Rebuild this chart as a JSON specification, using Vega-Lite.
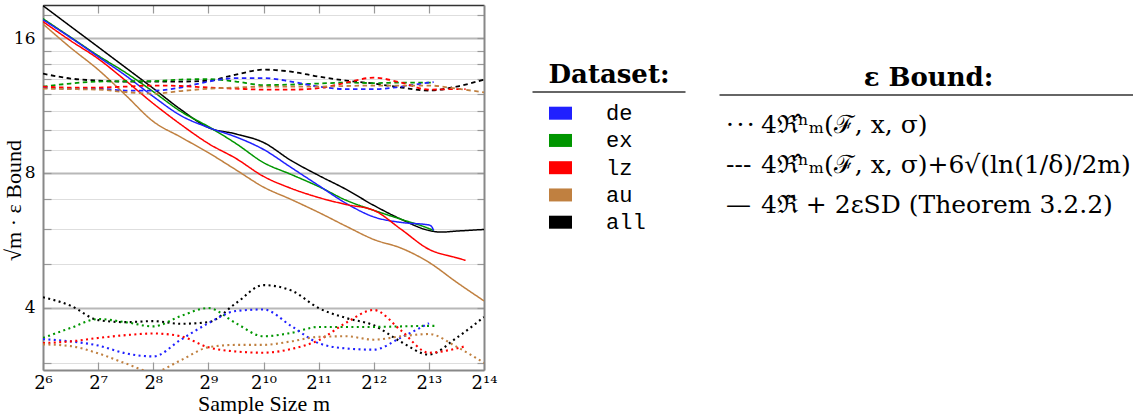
{
"$schema": "https://vega.github.io/schema/vega-lite/v6.json",
"padding": {"left": 2, "top": 4, "right": 0, "bottom": 0},
"config": {"view": {"stroke": null}, "font": "Liberation Serif"},
"spacing": 32,
"hconcat": [
{
"width": 441, "height": 365,
"data": {"values": [
{"dataset":"all","bound":"solid","m":64,"v":18.93},{"dataset":"all","bound":"solid","m":90.51,"v":17.02},{"dataset":"all","bound":"solid","m":128,"v":15.31},{"dataset":"all","bound":"solid","m":181.02,"v":13.76},{"dataset":"all","bound":"solid","m":256,"v":12.37},{"dataset":"all","bound":"solid","m":362.04,"v":11.09},{"dataset":"all","bound":"solid","m":512,"v":10.11},{"dataset":"all","bound":"solid","m":724.08,"v":9.78},{"dataset":"all","bound":"solid","m":1024,"v":9.36},{"dataset":"all","bound":"solid","m":1448.15,"v":8.53},{"dataset":"all","bound":"solid","m":2048,"v":7.90},{"dataset":"all","bound":"solid","m":2896.31,"v":7.35},{"dataset":"all","bound":"solid","m":4096,"v":6.77},{"dataset":"all","bound":"solid","m":5792.62,"v":6.30},{"dataset":"all","bound":"solid","m":8192,"v":5.95},{"dataset":"all","bound":"solid","m":9500,"v":5.90},{"dataset":"all","bound":"solid","m":11585.24,"v":5.93},{"dataset":"all","bound":"solid","m":16384,"v":5.98},
{"dataset":"ex","bound":"solid","m":64,"v":17.71},{"dataset":"ex","bound":"solid","m":90.51,"v":16.10},{"dataset":"ex","bound":"solid","m":128,"v":14.64},{"dataset":"ex","bound":"solid","m":181.02,"v":13.41},{"dataset":"ex","bound":"solid","m":256,"v":12.16},{"dataset":"ex","bound":"solid","m":362.04,"v":10.98},{"dataset":"ex","bound":"solid","m":512,"v":10.16},{"dataset":"ex","bound":"solid","m":724.08,"v":9.31},{"dataset":"ex","bound":"solid","m":1024,"v":8.44},{"dataset":"ex","bound":"solid","m":1448.15,"v":7.94},{"dataset":"ex","bound":"solid","m":2048,"v":7.46},{"dataset":"ex","bound":"solid","m":2896.31,"v":6.95},{"dataset":"ex","bound":"solid","m":4096,"v":6.60},{"dataset":"ex","bound":"solid","m":5792.62,"v":6.30},{"dataset":"ex","bound":"solid","m":8192,"v":6.01},{"dataset":"ex","bound":"solid","m":8700,"v":5.95},
{"dataset":"de","bound":"solid","m":64,"v":17.61},{"dataset":"de","bound":"solid","m":90.51,"v":16.06},{"dataset":"de","bound":"solid","m":128,"v":14.56},{"dataset":"de","bound":"solid","m":181.02,"v":13.21},{"dataset":"de","bound":"solid","m":256,"v":11.86},{"dataset":"de","bound":"solid","m":362.04,"v":10.75},{"dataset":"de","bound":"solid","m":512,"v":10.11},{"dataset":"de","bound":"solid","m":724.08,"v":9.63},{"dataset":"de","bound":"solid","m":1024,"v":9.03},{"dataset":"de","bound":"solid","m":1448.15,"v":8.23},{"dataset":"de","bound":"solid","m":2048,"v":7.50},{"dataset":"de","bound":"solid","m":2896.31,"v":6.84},{"dataset":"de","bound":"solid","m":4096,"v":6.38},{"dataset":"de","bound":"solid","m":5792.62,"v":6.20},{"dataset":"de","bound":"solid","m":8192,"v":6.12},{"dataset":"de","bound":"solid","m":8480,"v":6.07},{"dataset":"de","bound":"solid","m":8700,"v":5.95},
{"dataset":"lz","bound":"solid","m":64,"v":17.44},{"dataset":"lz","bound":"solid","m":90.51,"v":15.81},{"dataset":"lz","bound":"solid","m":128,"v":14.41},{"dataset":"lz","bound":"solid","m":181.02,"v":12.87},{"dataset":"lz","bound":"solid","m":256,"v":11.44},{"dataset":"lz","bound":"solid","m":362.04,"v":10.27},{"dataset":"lz","bound":"solid","m":512,"v":9.31},{"dataset":"lz","bound":"solid","m":724.08,"v":8.62},{"dataset":"lz","bound":"solid","m":1024,"v":7.86},{"dataset":"lz","bound":"solid","m":1448.15,"v":7.39},{"dataset":"lz","bound":"solid","m":2048,"v":7.05},{"dataset":"lz","bound":"solid","m":2896.31,"v":6.80},{"dataset":"lz","bound":"solid","m":4096,"v":6.60},{"dataset":"lz","bound":"solid","m":5792.62,"v":5.98},{"dataset":"lz","bound":"solid","m":8192,"v":5.40},{"dataset":"lz","bound":"solid","m":11585.24,"v":5.17},{"dataset":"lz","bound":"solid","m":13000,"v":5.10},
{"dataset":"au","bound":"solid","m":64,"v":17.23},{"dataset":"au","bound":"solid","m":90.51,"v":15.25},{"dataset":"au","bound":"solid","m":128,"v":13.62},{"dataset":"au","bound":"solid","m":181.02,"v":11.94},{"dataset":"au","bound":"solid","m":256,"v":10.43},{"dataset":"au","bound":"solid","m":362.04,"v":9.62},{"dataset":"au","bound":"solid","m":512,"v":8.88},{"dataset":"au","bound":"solid","m":724.08,"v":8.13},{"dataset":"au","bound":"solid","m":1024,"v":7.44},{"dataset":"au","bound":"solid","m":1448.15,"v":6.98},{"dataset":"au","bound":"solid","m":2048,"v":6.53},{"dataset":"au","bound":"solid","m":2896.31,"v":6.08},{"dataset":"au","bound":"solid","m":4096,"v":5.68},{"dataset":"au","bound":"solid","m":5792.62,"v":5.43},{"dataset":"au","bound":"solid","m":8192,"v":5.05},{"dataset":"au","bound":"solid","m":11585.24,"v":4.56},{"dataset":"au","bound":"solid","m":16384,"v":4.14},
{"dataset":"all","bound":"dashed","m":64,"v":13.34},{"dataset":"all","bound":"dashed","m":90.51,"v":13.01},{"dataset":"all","bound":"dashed","m":128,"v":12.87},{"dataset":"all","bound":"dashed","m":181.02,"v":12.81},{"dataset":"all","bound":"dashed","m":256,"v":12.81},{"dataset":"all","bound":"dashed","m":362.04,"v":12.81},{"dataset":"all","bound":"dashed","m":512,"v":12.87},{"dataset":"all","bound":"dashed","m":724.08,"v":13.28},{"dataset":"all","bound":"dashed","m":1024,"v":13.62},{"dataset":"all","bound":"dashed","m":1448.15,"v":13.48},{"dataset":"all","bound":"dashed","m":2048,"v":13.14},{"dataset":"all","bound":"dashed","m":2896.31,"v":12.87},{"dataset":"all","bound":"dashed","m":4096,"v":12.68},{"dataset":"all","bound":"dashed","m":5792.62,"v":12.42},{"dataset":"all","bound":"dashed","m":8192,"v":12.23},{"dataset":"all","bound":"dashed","m":11585.24,"v":12.48},{"dataset":"all","bound":"dashed","m":16384,"v":12.94},
{"dataset":"ex","bound":"dashed","m":64,"v":12.48},{"dataset":"ex","bound":"dashed","m":90.51,"v":12.68},{"dataset":"ex","bound":"dashed","m":128,"v":12.81},{"dataset":"ex","bound":"dashed","m":181.02,"v":12.83},{"dataset":"ex","bound":"dashed","m":256,"v":12.84},{"dataset":"ex","bound":"dashed","m":362.04,"v":12.94},{"dataset":"ex","bound":"dashed","m":512,"v":12.97},{"dataset":"ex","bound":"dashed","m":724.08,"v":12.81},{"dataset":"ex","bound":"dashed","m":1024,"v":12.58},{"dataset":"ex","bound":"dashed","m":1448.15,"v":12.61},{"dataset":"ex","bound":"dashed","m":2048,"v":12.68},{"dataset":"ex","bound":"dashed","m":2896.31,"v":12.74},{"dataset":"ex","bound":"dashed","m":4096,"v":12.71},{"dataset":"ex","bound":"dashed","m":5792.62,"v":12.74},{"dataset":"ex","bound":"dashed","m":8192,"v":12.74},{"dataset":"ex","bound":"dashed","m":8700,"v":12.74},
{"dataset":"de","bound":"dashed","m":64,"v":12.42},{"dataset":"de","bound":"dashed","m":90.51,"v":12.35},{"dataset":"de","bound":"dashed","m":128,"v":12.35},{"dataset":"de","bound":"dashed","m":181.02,"v":12.23},{"dataset":"de","bound":"dashed","m":256,"v":12.23},{"dataset":"de","bound":"dashed","m":362.04,"v":12.42},{"dataset":"de","bound":"dashed","m":512,"v":12.81},{"dataset":"de","bound":"dashed","m":724.08,"v":13.04},{"dataset":"de","bound":"dashed","m":1024,"v":13.04},{"dataset":"de","bound":"dashed","m":1448.15,"v":12.81},{"dataset":"de","bound":"dashed","m":2048,"v":12.48},{"dataset":"de","bound":"dashed","m":2896.31,"v":12.32},{"dataset":"de","bound":"dashed","m":4096,"v":12.32},{"dataset":"de","bound":"dashed","m":5792.62,"v":12.48},{"dataset":"de","bound":"dashed","m":8192,"v":12.74},{"dataset":"de","bound":"dashed","m":8700,"v":12.77},
{"dataset":"lz","bound":"dashed","m":64,"v":12.48},{"dataset":"lz","bound":"dashed","m":90.51,"v":12.42},{"dataset":"lz","bound":"dashed","m":128,"v":12.42},{"dataset":"lz","bound":"dashed","m":181.02,"v":12.48},{"dataset":"lz","bound":"dashed","m":256,"v":12.55},{"dataset":"lz","bound":"dashed","m":362.04,"v":12.52},{"dataset":"lz","bound":"dashed","m":512,"v":12.42},{"dataset":"lz","bound":"dashed","m":724.08,"v":12.35},{"dataset":"lz","bound":"dashed","m":1024,"v":12.29},{"dataset":"lz","bound":"dashed","m":1448.15,"v":12.29},{"dataset":"lz","bound":"dashed","m":2048,"v":12.38},{"dataset":"lz","bound":"dashed","m":2896.31,"v":12.74},{"dataset":"lz","bound":"dashed","m":4096,"v":13.07},{"dataset":"lz","bound":"dashed","m":5792.62,"v":12.74},{"dataset":"lz","bound":"dashed","m":8192,"v":12.29},{"dataset":"lz","bound":"dashed","m":11585.24,"v":12.32},{"dataset":"lz","bound":"dashed","m":13000,"v":12.32},
{"dataset":"au","bound":"dashed","m":64,"v":12.35},{"dataset":"au","bound":"dashed","m":90.51,"v":12.32},{"dataset":"au","bound":"dashed","m":128,"v":12.29},{"dataset":"au","bound":"dashed","m":181.02,"v":12.13},{"dataset":"au","bound":"dashed","m":256,"v":12.04},{"dataset":"au","bound":"dashed","m":362.04,"v":12.20},{"dataset":"au","bound":"dashed","m":512,"v":12.35},{"dataset":"au","bound":"dashed","m":724.08,"v":12.42},{"dataset":"au","bound":"dashed","m":1024,"v":12.48},{"dataset":"au","bound":"dashed","m":1448.15,"v":12.48},{"dataset":"au","bound":"dashed","m":2048,"v":12.48},{"dataset":"au","bound":"dashed","m":2896.31,"v":12.52},{"dataset":"au","bound":"dashed","m":4096,"v":12.55},{"dataset":"au","bound":"dashed","m":5792.62,"v":12.55},{"dataset":"au","bound":"dashed","m":8192,"v":12.55},{"dataset":"au","bound":"dashed","m":11585.24,"v":12.35},{"dataset":"au","bound":"dashed","m":16384,"v":12.12},
{"dataset":"all","bound":"dotted","m":64,"v":4.22},{"dataset":"all","bound":"dotted","m":90.51,"v":4.04},{"dataset":"all","bound":"dotted","m":128,"v":3.75},{"dataset":"all","bound":"dotted","m":181.02,"v":3.71},{"dataset":"all","bound":"dotted","m":256,"v":3.73},{"dataset":"all","bound":"dotted","m":362.04,"v":3.68},{"dataset":"all","bound":"dotted","m":512,"v":3.71},{"dataset":"all","bound":"dotted","m":724.08,"v":4.09},{"dataset":"all","bound":"dotted","m":1024,"v":4.49},{"dataset":"all","bound":"dotted","m":1448.15,"v":4.37},{"dataset":"all","bound":"dotted","m":2048,"v":3.99},{"dataset":"all","bound":"dotted","m":2896.31,"v":3.79},{"dataset":"all","bound":"dotted","m":4096,"v":3.65},{"dataset":"all","bound":"dotted","m":5792.62,"v":3.35},{"dataset":"all","bound":"dotted","m":8192,"v":3.14},{"dataset":"all","bound":"dotted","m":11585.24,"v":3.42},{"dataset":"all","bound":"dotted","m":16384,"v":3.81},
{"dataset":"ex","bound":"dotted","m":64,"v":3.42},{"dataset":"ex","bound":"dotted","m":90.51,"v":3.60},{"dataset":"ex","bound":"dotted","m":128,"v":3.77},{"dataset":"ex","bound":"dotted","m":181.02,"v":3.71},{"dataset":"ex","bound":"dotted","m":256,"v":3.63},{"dataset":"ex","bound":"dotted","m":362.04,"v":3.83},{"dataset":"ex","bound":"dotted","m":512,"v":3.99},{"dataset":"ex","bound":"dotted","m":724.08,"v":3.69},{"dataset":"ex","bound":"dotted","m":1024,"v":3.45},{"dataset":"ex","bound":"dotted","m":1448.15,"v":3.51},{"dataset":"ex","bound":"dotted","m":2048,"v":3.62},{"dataset":"ex","bound":"dotted","m":2896.31,"v":3.62},{"dataset":"ex","bound":"dotted","m":4096,"v":3.62},{"dataset":"ex","bound":"dotted","m":5792.62,"v":3.63},{"dataset":"ex","bound":"dotted","m":8192,"v":3.64},{"dataset":"ex","bound":"dotted","m":9040,"v":3.64},
{"dataset":"de","bound":"dotted","m":64,"v":3.40},{"dataset":"de","bound":"dotted","m":90.51,"v":3.36},{"dataset":"de","bound":"dotted","m":128,"v":3.29},{"dataset":"de","bound":"dotted","m":181.02,"v":3.16},{"dataset":"de","bound":"dotted","m":256,"v":3.11},{"dataset":"de","bound":"dotted","m":362.04,"v":3.39},{"dataset":"de","bound":"dotted","m":512,"v":3.69},{"dataset":"de","bound":"dotted","m":724.08,"v":3.93},{"dataset":"de","bound":"dotted","m":1024,"v":3.96},{"dataset":"de","bound":"dotted","m":1448.15,"v":3.64},{"dataset":"de","bound":"dotted","m":2048,"v":3.33},{"dataset":"de","bound":"dotted","m":2896.31,"v":3.24},{"dataset":"de","bound":"dotted","m":4096,"v":3.22},{"dataset":"de","bound":"dotted","m":5792.62,"v":3.43},{"dataset":"de","bound":"dotted","m":8192,"v":3.69},
{"dataset":"lz","bound":"dotted","m":64,"v":3.33},{"dataset":"lz","bound":"dotted","m":90.51,"v":3.36},{"dataset":"lz","bound":"dotted","m":128,"v":3.42},{"dataset":"lz","bound":"dotted","m":181.02,"v":3.47},{"dataset":"lz","bound":"dotted","m":256,"v":3.50},{"dataset":"lz","bound":"dotted","m":362.04,"v":3.45},{"dataset":"lz","bound":"dotted","m":512,"v":3.26},{"dataset":"lz","bound":"dotted","m":724.08,"v":3.19},{"dataset":"lz","bound":"dotted","m":1024,"v":3.17},{"dataset":"lz","bound":"dotted","m":1448.15,"v":3.23},{"dataset":"lz","bound":"dotted","m":2048,"v":3.38},{"dataset":"lz","bound":"dotted","m":2896.31,"v":3.70},{"dataset":"lz","bound":"dotted","m":4096,"v":3.95},{"dataset":"lz","bound":"dotted","m":5792.62,"v":3.55},{"dataset":"lz","bound":"dotted","m":8192,"v":3.17},{"dataset":"lz","bound":"dotted","m":11585.24,"v":3.24},{"dataset":"lz","bound":"dotted","m":13000,"v":3.28},
{"dataset":"au","bound":"dotted","m":64,"v":3.31},{"dataset":"au","bound":"dotted","m":90.51,"v":3.28},{"dataset":"au","bound":"dotted","m":128,"v":3.16},{"dataset":"au","bound":"dotted","m":181.02,"v":3.00},{"dataset":"au","bound":"dotted","m":256,"v":2.87},{"dataset":"au","bound":"dotted","m":362.04,"v":3.05},{"dataset":"au","bound":"dotted","m":512,"v":3.26},{"dataset":"au","bound":"dotted","m":724.08,"v":3.30},{"dataset":"au","bound":"dotted","m":1024,"v":3.30},{"dataset":"au","bound":"dotted","m":1448.15,"v":3.36},{"dataset":"au","bound":"dotted","m":2048,"v":3.44},{"dataset":"au","bound":"dotted","m":2896.31,"v":3.45},{"dataset":"au","bound":"dotted","m":4096,"v":3.39},{"dataset":"au","bound":"dotted","m":5792.62,"v":3.45},{"dataset":"au","bound":"dotted","m":8192,"v":3.49},{"dataset":"au","bound":"dotted","m":11585.24,"v":3.27},{"dataset":"au","bound":"dotted","m":16384,"v":3.01}
]},
"layer": [
{
"mark": {"type": "line", "interpolate": "monotone", "clip": true},
"encoding": {
"x": {"field": "m", "type": "quantitative",
 "scale": {"type": "log", "base": 2, "domain": [64, 16384], "nice": false},
 "axis": {"orient": "bottom", "values": [64,128,256,512,1024,2048,4096,8192,16384],
  "labelExpr": "['2⁶','2⁷','2⁸','2⁹','2¹⁰','2¹¹','2¹²','2¹³','2¹⁴'][round(log(datum.value)/LN2)-6]",
  "labelFlush": false, "labelOverlap": false, "grid": false,
  "tickSize": -8, "tickColor": "#999999", "tickWidth": 1.2,
  "domainColor": "#888888", "domainWidth": 2,
  "labelFont": "DejaVu Serif", "labelFontSize": 18, "labelColor": "#000000", "labelPadding": 12,
  "title": "Sample Size m", "titleFont": "Liberation Serif", "titleFontSize": 22, "titleFontWeight": "normal", "titleColor": "#000000", "titlePadding": 1}},
"y": {"field": "v", "type": "quantitative",
 "scale": {"type": "log", "base": 2, "domain": [2.9, 19], "nice": false},
 "axis": {"orient": "left", "values": [3,4,5,6,7,8,9,10,11,12,13,14,15,16,18],
  "labelExpr": "(datum.value == 4 || datum.value == 8 || datum.value == 16) ? datum.label : ''",
  "labelFlush": false, "labelOverlap": false,
  "grid": true,
  "gridColor": {"condition": {"test": "datum.value == 4 || datum.value == 8 || datum.value == 16", "value": "#b8b8b8"}, "value": "#dedede"},
  "gridWidth": {"condition": {"test": "datum.value == 4 || datum.value == 8 || datum.value == 16", "value": 2.2}, "value": 1.2},
  "tickSize": -8, "tickColor": "#999999", "tickWidth": 1.2,
  "domainColor": "#888888", "domainWidth": 2,
  "labelFont": "DejaVu Serif", "labelFontSize": 17, "labelColor": "#000000", "labelPadding": 16,
  "title": "√m · ε Bound", "titleFont": "Liberation Serif", "titleFontSize": 22, "titleFontWeight": "normal", "titleColor": "#000000",
  "titleX": -30, "titleY": 195, "titleBaseline": "middle"}},
"color": {"field": "dataset", "type": "nominal", "scale": {"domain": ["de","ex","lz","au","all"], "range": ["#2020ff","#009600","#ff0000","#c08040","#000000"]}, "legend": null},
"strokeDash": {"field": "bound", "type": "nominal", "scale": {"domain": ["dotted","dashed","solid"], "range": [[2,3.4],[4.5,3.5],[1,0]]}, "legend": null},
"strokeWidth": {"field": "bound", "type": "nominal", "scale": {"domain": ["dotted","dashed","solid"], "range": [2.1, 1.5, 1.4]}, "legend": null}
}
},
{
"mark": {"type": "point", "opacity": 0, "clip": true},
"encoding": {
"x": {"field": "m", "type": "quantitative",
 "scale": {"type": "log", "base": 2, "domain": [64, 16384], "nice": false},
 "axis": {"orient": "top", "values": [128,256,512,1024,2048,4096,8192], "labels": false, "title": null, "grid": false,
  "tickSize": -8, "tickColor": "#999999", "tickWidth": 1.2, "domainColor": "#333333", "domainWidth": 1.4}},
"y": {"field": "v", "type": "quantitative",
 "scale": {"type": "log", "base": 2, "domain": [2.9, 19], "nice": false},
 "axis": {"orient": "right", "values": [3,4,5,6,7,8,9,10,11,12,13,14,15,16,18], "labels": false, "title": null, "grid": false,
  "tickSize": -7, "tickColor": "#999999", "tickWidth": 1.2, "domainColor": "#888888", "domainWidth": 2}}
}
}
],
"resolve": {"axis": {"x": "independent", "y": "independent"}}
},
{
"spacing": 31,
"hconcat": [
{
"width": 153, "height": 365,
"data": {"values": [{"dataset":"de"},{"dataset":"ex"},{"dataset":"lz"},{"dataset":"au"},{"dataset":"all"}]},
"layer": [
{
"mark": {"type": "point", "opacity": 0},
"encoding": {
"x": {"datum": 0, "type": "quantitative", "scale": {"domain": [0, 1], "nice": false, "zero": false},
 "axis": {"orient": "top", "offset": -86.5, "labels": false, "ticks": false, "grid": false, "domain": true,
  "domainColor": "#333333", "domainWidth": 1.3,
  "title": "Dataset:", "titleFont": "DejaVu Serif", "titleFontSize": 26, "titleFontWeight": "bold", "titleColor": "#000000", "titlePadding": 4}}
}
},
{
"mark": {"type": "point", "shape": "M-1,-0.565H1V0.565H-1Z", "filled": true, "size": 529, "opacity": 1},
"encoding": {
"x": {"datum": "swatch", "type": "nominal",
 "scale": {"type": "point", "domain": ["swatch","label"], "range": [28.5, 74], "padding": 0}, "axis": null},
"y": {"field": "dataset", "type": "nominal", "scale": {"type": "point", "domain": ["de","ex","lz","au","all"], "range": [108.2, 217.2], "padding": 0}, "axis": null},
"color": {"field": "dataset", "type": "nominal", "scale": {"domain": ["de","ex","lz","au","all"], "range": ["#2020ff","#009600","#ff0000","#c08040","#000000"]}, "legend": null}
}
},
{
"mark": {"type": "text", "align": "left", "baseline": "middle", "font": "Liberation Mono", "fontSize": 22, "color": "#000000"},
"encoding": {
"x": {"datum": "label", "type": "nominal",
 "scale": {"type": "point", "domain": ["swatch","label"], "range": [28.5, 74], "padding": 0}, "axis": null},
"y": {"field": "dataset", "type": "nominal"},
"text": {"field": "dataset"}
}
}
],
"resolve": {"scale": {"x": "independent"}, "axis": {"x": "independent"}}
},
{
"width": 418, "height": 365,
"data": {"values": [
{"bound":"dotted","sym":"·\u200a·\u200a·","label":"4ℜ̂ⁿₘ(ℱ, x, σ)"},
{"bound":"dashed","sym":"---","label":"4ℜ̂ⁿₘ(ℱ, x, σ)+6√(ln(1/δ)/2m)"},
{"bound":"solid","sym":"—","label":"4ℜ̃ + 2εSD (Theorem 3.2.2)"}
]},
"layer": [
{
"mark": {"type": "point", "opacity": 0},
"encoding": {
"x": {"datum": 0, "type": "quantitative", "scale": {"domain": [0, 1], "nice": false, "zero": false},
 "axis": {"orient": "top", "offset": -89.5, "labels": false, "ticks": false, "grid": false, "domain": true,
  "domainColor": "#333333", "domainWidth": 1.3,
  "title": "ε Bound:", "titleFont": "DejaVu Serif", "titleFontSize": 26, "titleFontWeight": "bold", "titleColor": "#000000", "titlePadding": 4}}
}
},
{
"mark": {"type": "text", "align": "left", "baseline": "middle", "font": "DejaVu Serif", "fontSize": 25, "color": "#000000"},
"encoding": {
"x": {"datum": "sym", "type": "nominal",
 "scale": {"type": "point", "domain": ["sym","label"], "range": [7, 42], "padding": 0}, "axis": null},
"y": {"field": "bound", "type": "nominal", "scale": {"type": "point", "domain": ["dotted","dashed","solid"], "range": [119.5, 199.5], "padding": 0}, "axis": null},
"text": {"field": "sym"}
}
},
{
"mark": {"type": "text", "align": "left", "baseline": "middle", "font": "DejaVu Serif", "fontSize": 25, "color": "#000000"},
"encoding": {
"x": {"datum": "label", "type": "nominal",
 "scale": {"type": "point", "domain": ["sym","label"], "range": [7, 42], "padding": 0}, "axis": null},
"y": {"field": "bound", "type": "nominal"},
"text": {"field": "label"}
}
}
],
"resolve": {"scale": {"x": "independent"}, "axis": {"x": "independent"}}
}
]
}
]
}
